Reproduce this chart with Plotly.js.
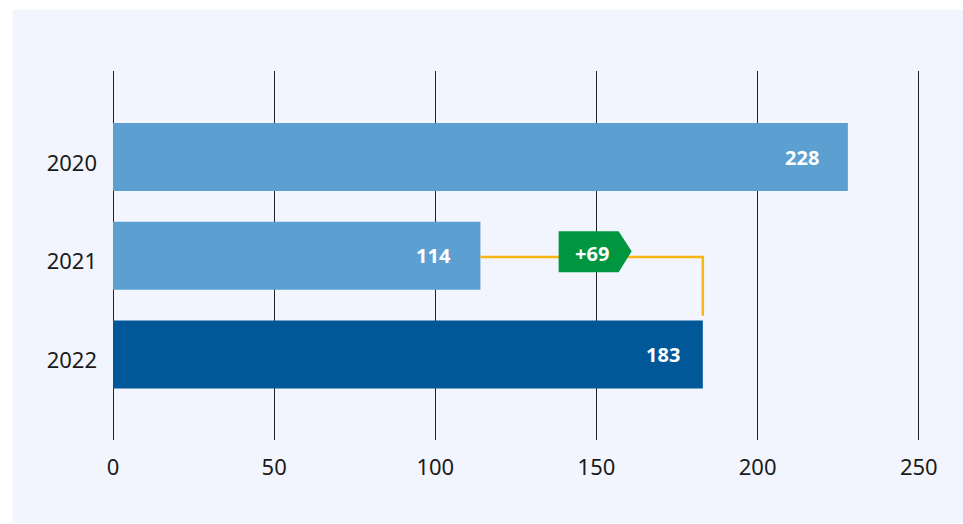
<!DOCTYPE html>
<html>
<head>
<meta charset="utf-8">
<script src="https://cdn.plot.ly/plotly-3.0.1.min.js"></script>
<style>
  html, body { margin: 0; padding: 0; background: #ffffff; }
  #chart { width: 963px; height: 524px; }
</style>
</head>
<body>
<div id="chart"></div>
<script>
// Yearly totals
const years = ['2020', '2021', '2022'];
const values = [228, 114, 183];
const barColors = ['#5ba0d0', '#5ba0d0', '#005899'];
const xTicks = [0, 50, 100, 150, 200, 250];

// Change between the last two years
const fromIdx = 1;
const toIdx = 2;
const delta = values[toIdx] - values[fromIdx];
const mid = (values[fromIdx] + values[toIdx]) / 2;

const panel = '#f2f5fd';
const font = '"Noto Sans", "Open Sans", sans-serif';

const trace = {
  type: 'bar',
  orientation: 'h',
  y: years,
  x: values,
  width: 0.69,
  marker: { color: barColors, line: { width: 0 } },
  hoverinfo: 'skip',
  cliponaxis: false
};

// value labels sit inside the end of each bar
const labelInset = [-27, -27, -21];
const valueLabels = years.map((yr, i) => ({
  x: values[i], y: i, xref: 'x', yref: 'y',
  text: '<b>' + values[i] + '</b>',
  showarrow: false, xanchor: 'right', yanchor: 'middle',
  xshift: labelInset[i],
  font: { family: font, size: 20, color: '#ffffff' }
}));

const deltaLabel = {
  x: mid, y: fromIdx, xref: 'x', yref: 'y',
  text: '<b>' + (delta > 0 ? '+' : '') + delta + '</b>',
  showarrow: false, xanchor: 'center', yanchor: 'middle',
  yshift: 2,
  font: { family: font, size: 20, color: '#ffffff' }
};

const shapes = [
  // background panel
  {
    type: 'rect', xref: 'paper', yref: 'paper', layer: 'below',
    x0: -0.124, x1: 1.06, y0: -0.225, y1: 1.166,
    fillcolor: panel, line: { width: 0 }
  },
  // connector from the 2021 bar end over to the 2022 bar end
  {
    type: 'path', xref: 'x', yref: 'y', layer: 'above',
    path: 'M' + values[fromIdx] + ',' + (fromIdx + 0.012) +
          ' L' + values[toIdx] + ',' + (fromIdx + 0.012) +
          ' L' + values[toIdx] + ',' + (toIdx - 0.393),
    line: { color: '#fcb614', width: 2.5 }
  },
  // green arrow tag holding the change
  {
    type: 'path', xref: 'x', yref: 'y', layer: 'above',
    xsizemode: 'pixel', ysizemode: 'pixel',
    xanchor: mid, yanchor: fromIdx,
    path: 'M-33,24.5 L27,24.5 L40,4.5 L27,-16.5 L-33,-16.5 Z',
    fillcolor: '#009640', line: { width: 0 }
  }
];

const layout = {
  width: 963, height: 524,
  margin: { l: 113, r: 41, t: 71, b: 84 },
  paper_bgcolor: '#ffffff',
  plot_bgcolor: panel,
  showlegend: false,
  font: { family: font, color: '#1a1a1a' },
  xaxis: {
    range: [0, 251],
    tickvals: xTicks,
    ticktext: xTicks.map(String),
    showgrid: true, gridcolor: '#222222', gridwidth: 1,
    zeroline: true, zerolinecolor: '#222222', zerolinewidth: 1,
    showline: false, ticks: '',
    ticklabelstandoff: 12,
    tickfont: { family: font, size: 22, color: '#1a1a1a' },
    fixedrange: true
  },
  yaxis: {
    type: 'category',
    categoryarray: years,
    range: [2.866, -0.871],
    showgrid: false, zeroline: false, showline: false, ticks: '',
    ticklabelstandoff: 15,
    ticklabelshift: -6,
    tickfont: { family: font, size: 22, color: '#1a1a1a' },
    fixedrange: true
  },
  shapes: shapes,
  annotations: valueLabels.concat([deltaLabel])
};

Plotly.newPlot('chart', [trace], layout, { displayModeBar: false, staticPlot: true });
</script>
</body>
</html>
